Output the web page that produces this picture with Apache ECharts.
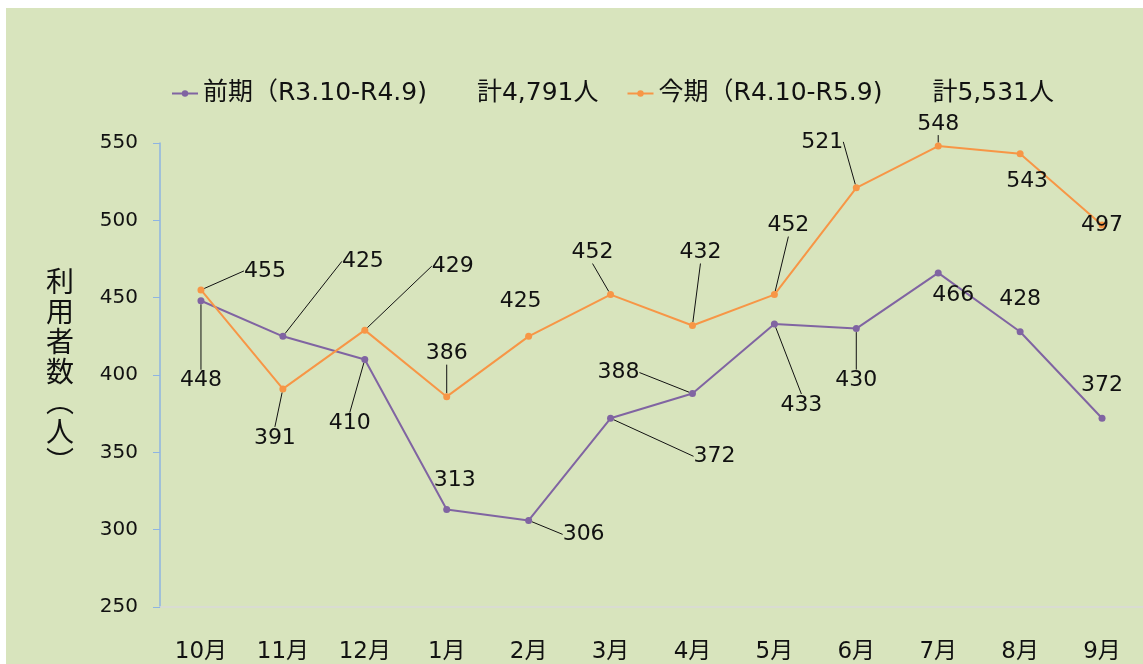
<!DOCTYPE html>
<html>
<head>
<meta charset="utf-8">
<script src="https://cdn.jsdelivr.net/npm/echarts@6/dist/echarts.min.js"></script>
<style>
  html, body { margin: 0; padding: 0; background: #fff; }
  #chart { position: absolute; left: 6px; top: 8px; width: 1137px; height: 656px; background: #d8e4bd; }
</style>
</head>
<body>
<div id="chart"></div>
<script>
const months = ['10月', '11月', '12月', '1月', '2月', '3月', '4月', '5月', '6月', '7月', '8月', '9月'];
const prevName = '前期（R3.10-R4.9)　　計4,791人';
const currName = '今期（R4.10-R5.9)　　計5,531人';
const prevValues = [448, 425, 410, 313, 306, 372, 388, 433, 430, 466, 428, 372];
const currValues = [455, 391, 429, 386, 425, 452, 432, 452, 521, 548, 543, 497];
const yTicks = [250, 300, 350, 400, 450, 500, 550];

// ラベルの移動量 [dx, dy, 引き出し線あり]
const prevShift = [[0, 80, 1], [80, -75, 1], [-15, 64, 1], [8, -29, 0], [55, 14, 1], [104, 38, 1],
  [-74, -21, 1], [27, 81, 1], [0, 52, 1], [15, 22, 0], [0, -32, 0], [0, -33, 0]];
const currShift = [[64, -19, 1], [-8, 49, 1], [88, -64, 1], [0, -43, 1], [-8, -35, 0], [-18, -42, 1],
  [8, -73, 1], [14, -69, 1], [-34, -46, 1], [0, -22, 1], [7, 27, 0], [0, 0, 0]];

const font = '"DejaVu Sans", "Noto Sans CJK JP", sans-serif';
const chart = echarts.init(document.getElementById('chart'));

function makeData(values, shift) {
  return values.map((v, i) => ({ value: v, labelLine: { show: !!shift[i][2] } }));
}

function makeSeries(name, values, shift, color) {
  return {
    name: name,
    type: 'line',
    data: makeData(values, shift),
    symbol: 'circle',
    symbolSize: 7,
    lineStyle: { color: color, width: 2 },
    itemStyle: { color: color },
    label: {
      show: true,
      position: 'inside',
      color: '#111',
      fontSize: 22,
      fontFamily: font
    },
    labelLine: {
      show: true,
      lineStyle: { color: '#111', width: 1 }
    },
    labelLayout: function (p) {
      const s = shift[p.dataIndex];
      return { dx: s[0], dy: s[1] };
    },
    animation: false
  };
}

chart.setOption({
  textStyle: { fontFamily: font },
  legend: {
    left: 160,
    top: 68,
    itemWidth: 26,
    itemHeight: 8,
    itemGap: 28,
    textStyle: { fontSize: 25, color: '#111', fontFamily: font },
    data: [prevName, currName]
  },
  grid: { left: 154, right: -10, top: 135, bottom: 56 },
  xAxis: {
    type: 'category',
    data: months,
    boundaryGap: true,
    axisLine: { lineStyle: { color: '#d9d9d9', width: 1.5 } },
    axisTick: { show: false },
    axisLabel: { fontSize: 23, color: '#111', margin: 34, fontFamily: font }
  },
  yAxis: {
    type: 'value',
    min: yTicks[0],
    max: yTicks[yTicks.length - 1],
    interval: 50,
    name: '利\n用\n者\n数\n︵\n人\n︶',
    nameLocation: 'middle',
    nameRotate: 0,
    nameGap: 86,
    nameTextStyle: { fontSize: 28, color: '#111', lineHeight: 30, fontFamily: font, padding: [22, 0, 0, 0] },
    axisLine: { show: true, lineStyle: { color: '#8eb4e3', width: 1.5 } },
    axisTick: { show: true, length: 7, lineStyle: { color: '#8eb4e3' } },
    splitLine: { show: false },
    axisLabel: { fontSize: 20, color: '#111', margin: 22, fontFamily: font }
  },
  series: [
    makeSeries(prevName, prevValues, prevShift, '#8064a2'),
    makeSeries(currName, currValues, currShift, '#f79646')
  ]
});
</script>
</body>
</html>
